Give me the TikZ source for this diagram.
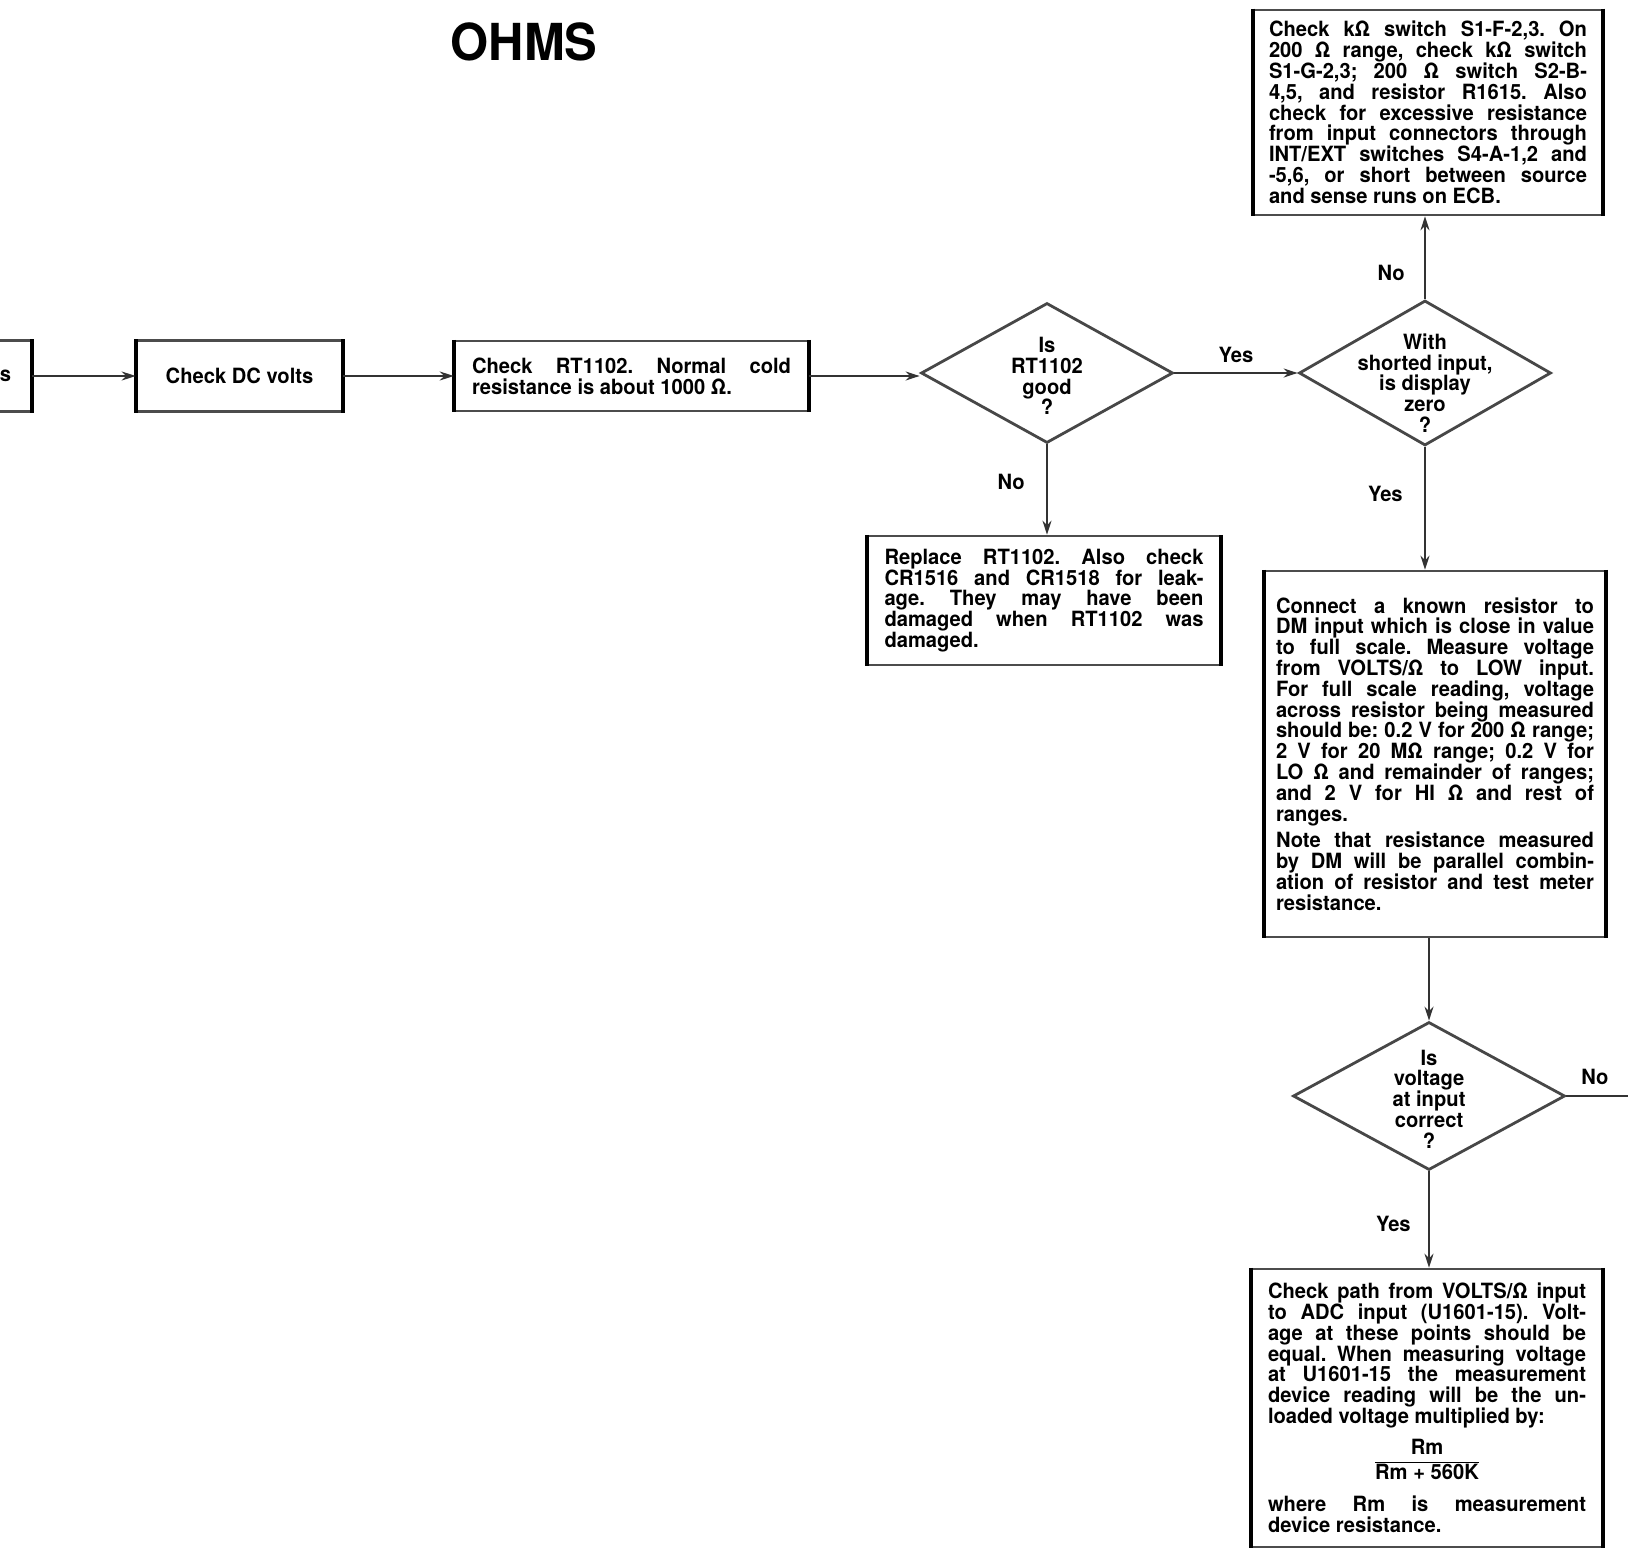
\documentclass[tikz,border=0pt]{standalone}
\usepackage{fontspec}
\setmainfont{TeX Gyre Heros}[FakeStretch=0.96]
\usetikzlibrary{shapes.geometric,arrows.meta}
\setlength{\parindent}{0pt}
\tolerance=9999
\hbadness=10000
\hfuzz=20pt
\hyphenpenalty=10000
\frenchspacing
\tikzset{
  txt/.style={font=\fontsize{21}{20.8}\selectfont\bfseries},
  box/.style={txt, rectangle, draw=black!70, line width=2.5pt, inner sep=0pt, align=justify},
  side/.style={line width=3.8pt, black},
  dia/.style={diamond, draw=black!72, line width=2.8pt, inner sep=0pt},
  conn/.style={line width=2pt, draw=black!80, -{Stealth[length=14pt,width=9pt]}},
  plain/.style={line width=2pt, draw=black!80},
  lbl/.style={txt},
}
\begin{document}
\begin{tikzpicture}[x=1pt,y=-1pt]
\useasboundingbox (0,0) rectangle (1628,1549);
\clip (0,0) rectangle (1628,1549);

\node[font=\fontsize{51}{51}\selectfont\bfseries] (title) at (524,42) {OHMS};

% boxes
\node[box, minimum width=250pt, minimum height=71pt, text width=210pt, align=right] (b0) at (-94,376) {s};
\node[box, minimum width=205pt, minimum height=71pt, align=center] (b1) at (239.5,376) {Check DC volts};
\node[box, minimum width=353pt, minimum height=70pt, text width=319pt] (b2) at (631.5,376)
 {Check RT1102. Normal cold\linebreak resistance is about 1000 Ω.};

\node[box, minimum width=348pt, minimum height=205pt, text width=318pt] (b3) at (1428,112.5)
 {Check kΩ switch S1-F-2,3. On\linebreak
  200 Ω range, check kΩ switch\linebreak
  S1-G-2,3; 200 Ω switch S2-B-\linebreak
  4,5, and resistor R1615. Also\linebreak
  check for excessive resistance\linebreak
  from input connectors through\linebreak
  INT/EXT switches S4-A-1,2 and\linebreak
  -5,6, or short between source\linebreak
  and sense runs on ECB.};

\node[box, minimum width=352pt, minimum height=129pt, text width=319pt] (b4) at (1044,600.5)
 {Replace RT1102. Also check\linebreak
  CR1516 and CR1518 for leak-\linebreak
  age. They may have been\linebreak
  damaged when RT1102 was\linebreak
  damaged.};

\node[box, minimum width=340pt, minimum height=366pt, text width=318pt] (b5) at (1435,754)
 {Connect a known resistor to\linebreak
  DM input which is close in value\linebreak
  to full scale. Measure voltage\linebreak
  from VOLTS/Ω to LOW input.\linebreak
  For full scale reading, voltage\linebreak
  across resistor being measured\linebreak
  should be: 0.2 V for 200 Ω range;\linebreak
  2 V for 20 MΩ range; 0.2 V for\linebreak
  LO Ω and remainder of ranges;\linebreak
  and 2 V for HI Ω and rest of\linebreak
  ranges.\par\vspace{6pt}
  Note that resistance measured\linebreak
  by DM will be parallel combin-\linebreak
  ation of resistor and test meter\linebreak
  resistance.};

\node[box, minimum width=350pt, minimum height=278pt, text width=318pt] (b6) at (1427,1408)
 {Check path from VOLTS/Ω input\linebreak
  to ADC input (U1601-15). Volt-\linebreak
  age at these points should be\linebreak
  equal. When measuring voltage\linebreak
  at U1601-15 the measurement\linebreak
  device reading will be the un-\linebreak
  loaded voltage multiplied by:\par\vspace{9pt}
  \centerline{\renewcommand{\arraystretch}{1.15}\begin{tabular}{@{}c@{}}Rm\\\hline Rm + 560K\end{tabular}}\par\vspace{9pt}
  where Rm is measurement\linebreak
  device resistance.};

\foreach \n in {b0,b1,b2,b3,b4,b5,b6}
  \draw[side] (\n.north west) -- (\n.south west) (\n.north east) -- (\n.south east);

% diamonds
\node[dia, minimum width=252pt, minimum height=140pt,
  label={[txt,align=center,yshift=-3pt]center:{Is\\RT1102\\good\\?}}] (d1) at (1047,373) {};
\node[dia, minimum width=252pt, minimum height=145pt,
  label={[txt,align=center,yshift=-10pt]center:{With\\shorted input,\\is display\\zero\\?}}] (d2) at (1425,373) {};
\node[dia, minimum width=272pt, minimum height=148pt,
  label={[txt,align=center,yshift=-3pt]center:{Is\\voltage\\at input\\correct\\?}}] (d3) at (1429,1096) {};

\coordinate (offr) at (1640,1096);

% connectors
\draw[conn] (b0) -- (b1);
\draw[conn] (b1) -- (b2);
\draw[conn] (b2.east) -- (b2.east -| d1.west);
\draw[conn] (d1.east) -- node[lbl, above=6pt] {Yes} (d2.west);
\draw[conn] (d2.north) -- node[lbl, pos=0.31, left=16pt] {No} (d2.north |- b3.south);
\draw[conn] (d1.south) -- node[lbl, pos=0.41, left=18pt] {No} (d1.south |- b4.north);
\draw[conn] (d2.south) -- node[lbl, pos=0.38, left=18pt] {Yes} (d2.south |- b5.north);
\draw[conn] (b5.south -| d3.north) -- (d3.north);
\draw[plain] (d3.east) -- (offr);
\node[lbl] (nolbl) at (1595,1077) {No};
\draw[conn] (d3.south) -- node[lbl, pos=0.55, left=14pt] {Yes} (d3.south |- b6.north);
\end{tikzpicture}
\end{document}
